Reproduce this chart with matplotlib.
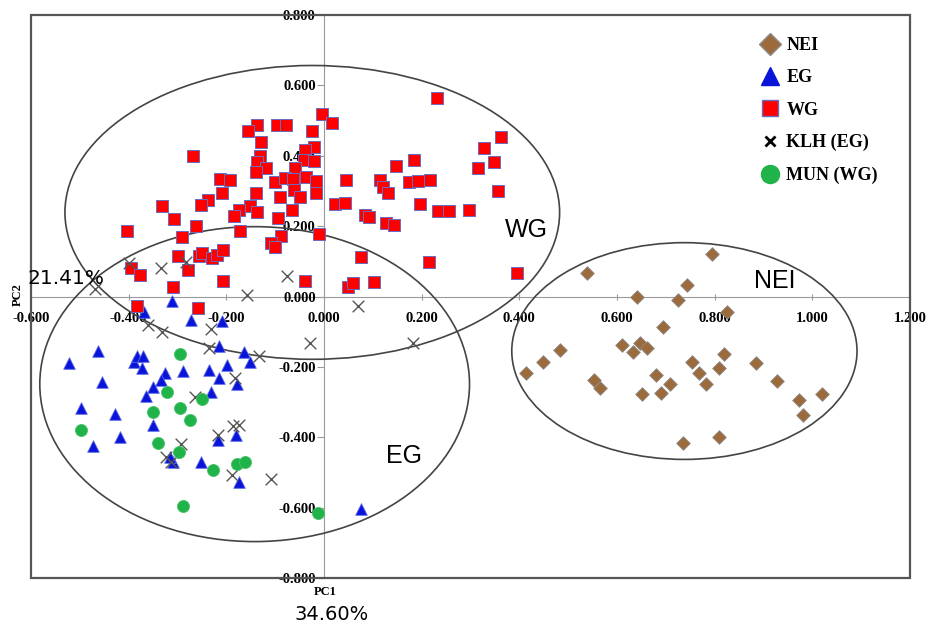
import numpy as np
import matplotlib
matplotlib.use('Agg')
import matplotlib.pyplot as plt
from matplotlib.patches import Ellipse, Rectangle
from matplotlib.lines import Line2D

# PCA scores (PC1, PC2)
wg_pc1 = [0.232, -0.004, 0.016, -0.138, -0.156, -0.097, -0.078, -0.025, -0.129, -0.269,
          -0.132, -0.021, -0.039, -0.041, -0.021, -0.138, -0.119, -0.140, -0.060, 0.148,
          0.185, -0.212, -0.193, -0.101, -0.080, -0.064, -0.037, -0.016, 0.045, 0.115,
          0.121, 0.132, 0.175, 0.193, 0.218, -0.208, -0.140, -0.090, -0.062, -0.049,
          -0.016, -0.238, -0.251, -0.331, 0.023, 0.043, 0.197, 0.234, 0.255, 0.296,
          -0.152, -0.138, -0.175, -0.185, -0.066, -0.308, -0.263, -0.095, 0.084, 0.092,
          0.127, 0.144, -0.403, -0.290, -0.173, -0.088, -0.010, -0.109, -0.101, -0.298,
          -0.255, -0.249, -0.230, -0.220, -0.206, 0.076, 0.214, -0.395, -0.376, -0.279,
          -0.206, -0.039, 0.049, 0.060, 0.103, -0.310, -0.382, -0.257, 0.362, 0.327,
          0.316, 0.349, 0.356, 0.395]
wg_pc2 = [0.565, 0.520, 0.494, 0.488, 0.471, 0.486, 0.486, 0.469, 0.440, 0.400,
          0.398, 0.426, 0.415, 0.389, 0.386, 0.381, 0.364, 0.355, 0.364, 0.372,
          0.389, 0.335, 0.332, 0.324, 0.338, 0.335, 0.341, 0.327, 0.332, 0.332,
          0.310, 0.295, 0.324, 0.329, 0.332, 0.295, 0.295, 0.284, 0.304, 0.284,
          0.295, 0.275, 0.261, 0.256, 0.264, 0.267, 0.264, 0.244, 0.244, 0.247,
          0.256, 0.241, 0.247, 0.230, 0.247, 0.219, 0.199, 0.222, 0.233, 0.227,
          0.210, 0.202, 0.187, 0.170, 0.187, 0.173, 0.179, 0.153, 0.142, 0.114,
          0.114, 0.125, 0.108, 0.119, 0.131, 0.111, 0.099, 0.080, 0.060, 0.074,
          0.043, 0.043, 0.028, 0.037, 0.040, 0.026, -0.026, -0.034, 0.454, 0.423,
          0.366, 0.381, 0.301, 0.068]

eg_pc1 = [-0.312, -0.368, -0.273, -0.208, -0.216, -0.164, -0.152, -0.199, -0.236, -0.288,
          -0.325, -0.333, -0.214, -0.179, -0.232, -0.351, -0.364, -0.462, -0.522, -0.390,
          -0.382, -0.370, -0.372, -0.454, -0.497, -0.429, -0.417, -0.473, -0.351, -0.310,
          -0.316, -0.251, -0.218, -0.181, -0.175, 0.076]
eg_pc2 = [-0.014, -0.043, -0.068, -0.071, -0.142, -0.159, -0.187, -0.196, -0.210, -0.213,
          -0.216, -0.236, -0.233, -0.250, -0.270, -0.258, -0.284, -0.156, -0.190, -0.185,
          -0.170, -0.170, -0.204, -0.244, -0.318, -0.335, -0.400, -0.426, -0.364, -0.471,
          -0.457, -0.471, -0.409, -0.395, -0.528, -0.605]

klh_pc1 = [-0.469, -0.399, -0.333, -0.282, -0.158, -0.076, 0.070, -0.360, -0.331, -0.232,
           -0.236, -0.029, 0.183, -0.134, -0.183, -0.265, -0.218, -0.187, -0.175, -0.292,
           -0.323, -0.314, -0.189, -0.109]
klh_pc2 = [0.020, 0.094, 0.082, 0.099, 0.003, 0.057, -0.028, -0.082, -0.102, -0.091,
           -0.145, -0.131, -0.133, -0.170, -0.233, -0.287, -0.395, -0.369, -0.366, -0.420,
           -0.457, -0.469, -0.508, -0.520]

mun_pc1 = [-0.294, -0.321, -0.249, -0.294, -0.351, -0.275, -0.497, -0.339, -0.296, -0.228,
           -0.179, -0.162, -0.288, -0.012]
mun_pc2 = [-0.162, -0.270, -0.290, -0.318, -0.329, -0.352, -0.378, -0.415, -0.443, -0.494,
           -0.477, -0.469, -0.596, -0.616]

nei_pc1 = [0.795, 0.538, 0.744, 0.641, 0.725, 0.826, 0.695, 0.610, 0.647, 0.662,
           0.633, 0.483, 0.448, 0.413, 0.820, 0.754, 0.884, 0.808, 0.767, 0.680,
           0.553, 0.565, 0.709, 0.783, 0.927, 0.651, 0.690, 0.972, 1.019, 0.980,
           0.808, 0.736]
nei_pc2 = [0.122, 0.068, 0.034, 0.000, -0.011, -0.043, -0.088, -0.139, -0.131, -0.145,
           -0.159, -0.151, -0.185, -0.216, -0.162, -0.185, -0.190, -0.202, -0.216, -0.222,
           -0.236, -0.261, -0.250, -0.250, -0.241, -0.278, -0.275, -0.295, -0.278, -0.338,
           -0.398, -0.417]

# group ellipses: centre x, centre y, width, height
groups = ['WG', 'EG', 'NEI']
ell_cx = [-0.024, -0.142, 0.738]
ell_cy = [0.239, -0.249, -0.155]
ell_w = [1.013, 0.880, 0.707]
ell_h = [0.835, 0.895, 0.616]
lab_x = [0.415, 0.164, 0.923]
lab_y = [0.190, -0.452, 0.043]

xticks = [-0.6, -0.4, -0.2, 0.0, 0.2, 0.4, 0.6, 0.8, 1.0, 1.2]
yticks = [-0.8, -0.6, -0.4, -0.2, 0.0, 0.2, 0.4, 0.6, 0.8]

serif = 'Liberation Serif'

fig = plt.figure(figsize=(9.29, 6.26), dpi=100)
ax = fig.add_axes([31/929, 48/626, 879/929, 563/626])
ax.set_xlim(-0.6, 1.2)
ax.set_ylim(-0.8, 0.8)

# axes through the origin
for s in ['top', 'right']:
    ax.spines[s].set_visible(False)
ax.spines['left'].set_position('zero')
ax.spines['bottom'].set_position('zero')
ax.spines['left'].set_color('#9a9a9a')
ax.spines['bottom'].set_color('#9a9a9a')
ax.spines['left'].set_zorder(0)
ax.spines['bottom'].set_zorder(0)

# outer frame
ax.add_patch(Rectangle((0, 0), 1, 1, transform=ax.transAxes, fill=False,
                       edgecolor='#555555', lw=1.6, clip_on=False, zorder=5))

ax.set_xticks(xticks)
ax.set_yticks(yticks)
ax.set_xticklabels(['%.3f' % t for t in xticks], fontfamily=serif, fontweight='bold', fontsize=10.5)
ax.set_yticklabels(['%.3f' % t for t in yticks], fontfamily=serif, fontweight='bold', fontsize=10.5)
ax.tick_params(axis='x', direction='inout', length=5, color='#9a9a9a', pad=9)
ax.tick_params(axis='y', direction='out', length=5, color='#9a9a9a', pad=1)

for cx, cy, w, h in zip(ell_cx, ell_cy, ell_w, ell_h):
    ax.add_patch(Ellipse((cx, cy), w, h, fill=False, edgecolor='#444444', lw=1.2, zorder=2))

ax.scatter(nei_pc1, nei_pc2, marker='D', s=48, c='#9c6b3c', edgecolors='#8a8a8a', linewidths=0.6, zorder=3)
ax.scatter(eg_pc1, eg_pc2, marker='^', s=70, c='#0a14d8', edgecolors='#5a6ae8', linewidths=0.6, zorder=3)
ax.scatter(wg_pc1, wg_pc2, marker='s', s=80, c='#ff0000', edgecolors='#6c6cc0', linewidths=0.7, zorder=3)
ax.scatter(klh_pc1, klh_pc2, marker='x', s=70, c='#555555', linewidths=1.0, zorder=4)
ax.scatter(mun_pc1, mun_pc2, marker='o', s=75, c='#1fb34a', edgecolors='#48c068', linewidths=0.6, zorder=4)

for g, x, y in zip(groups, lab_x, lab_y):
    ax.text(x, y, g, fontsize=18, fontfamily='Liberation Sans', ha='center', va='center')

handles = [
    Line2D([], [], ls='none', marker='D', ms=11, mfc='#9c6b3c', mec='#8a8a8a'),
    Line2D([], [], ls='none', marker='^', ms=13, mfc='#0a14d8', mec='#0a14d8'),
    Line2D([], [], ls='none', marker='s', ms=12, mfc='#ff0000', mec='#6c6cc0'),
    Line2D([], [], ls='none', marker='x', ms=7, mec='black', mew=2),
    Line2D([], [], ls='none', marker='o', ms=13, mfc='#1fb34a', mec='#1fb34a'),
]
leg = ax.legend(handles, ['NEI', 'EG', 'WG', 'KLH (EG)', 'MUN (WG)'], loc='upper left',
                bbox_to_anchor=(0.81, 0.99), frameon=False, handletextpad=0.3,
                labelspacing=0.85, handlelength=1.2,
                prop={'family': serif, 'weight': 'bold', 'size': 13})

fig.text(18/929, 1 - 295/626, 'PC2', rotation=90, ha='center', va='center',
         fontfamily=serif, fontweight='bold', fontsize=9)
fig.text(325/929, 1 - 592/626, 'PC1', ha='center', va='center',
         fontfamily=serif, fontweight='bold', fontsize=9)
fig.text(28/929, 1 - 278/626, '21.41%', ha='left', va='center', fontfamily='DejaVu Sans', fontsize=14.5)
fig.text(332/929, 1 - 614/626, '34.60%', ha='center', va='center', fontfamily='DejaVu Sans', fontsize=14)

fig.savefig('out.png', dpi=100, facecolor='white')
